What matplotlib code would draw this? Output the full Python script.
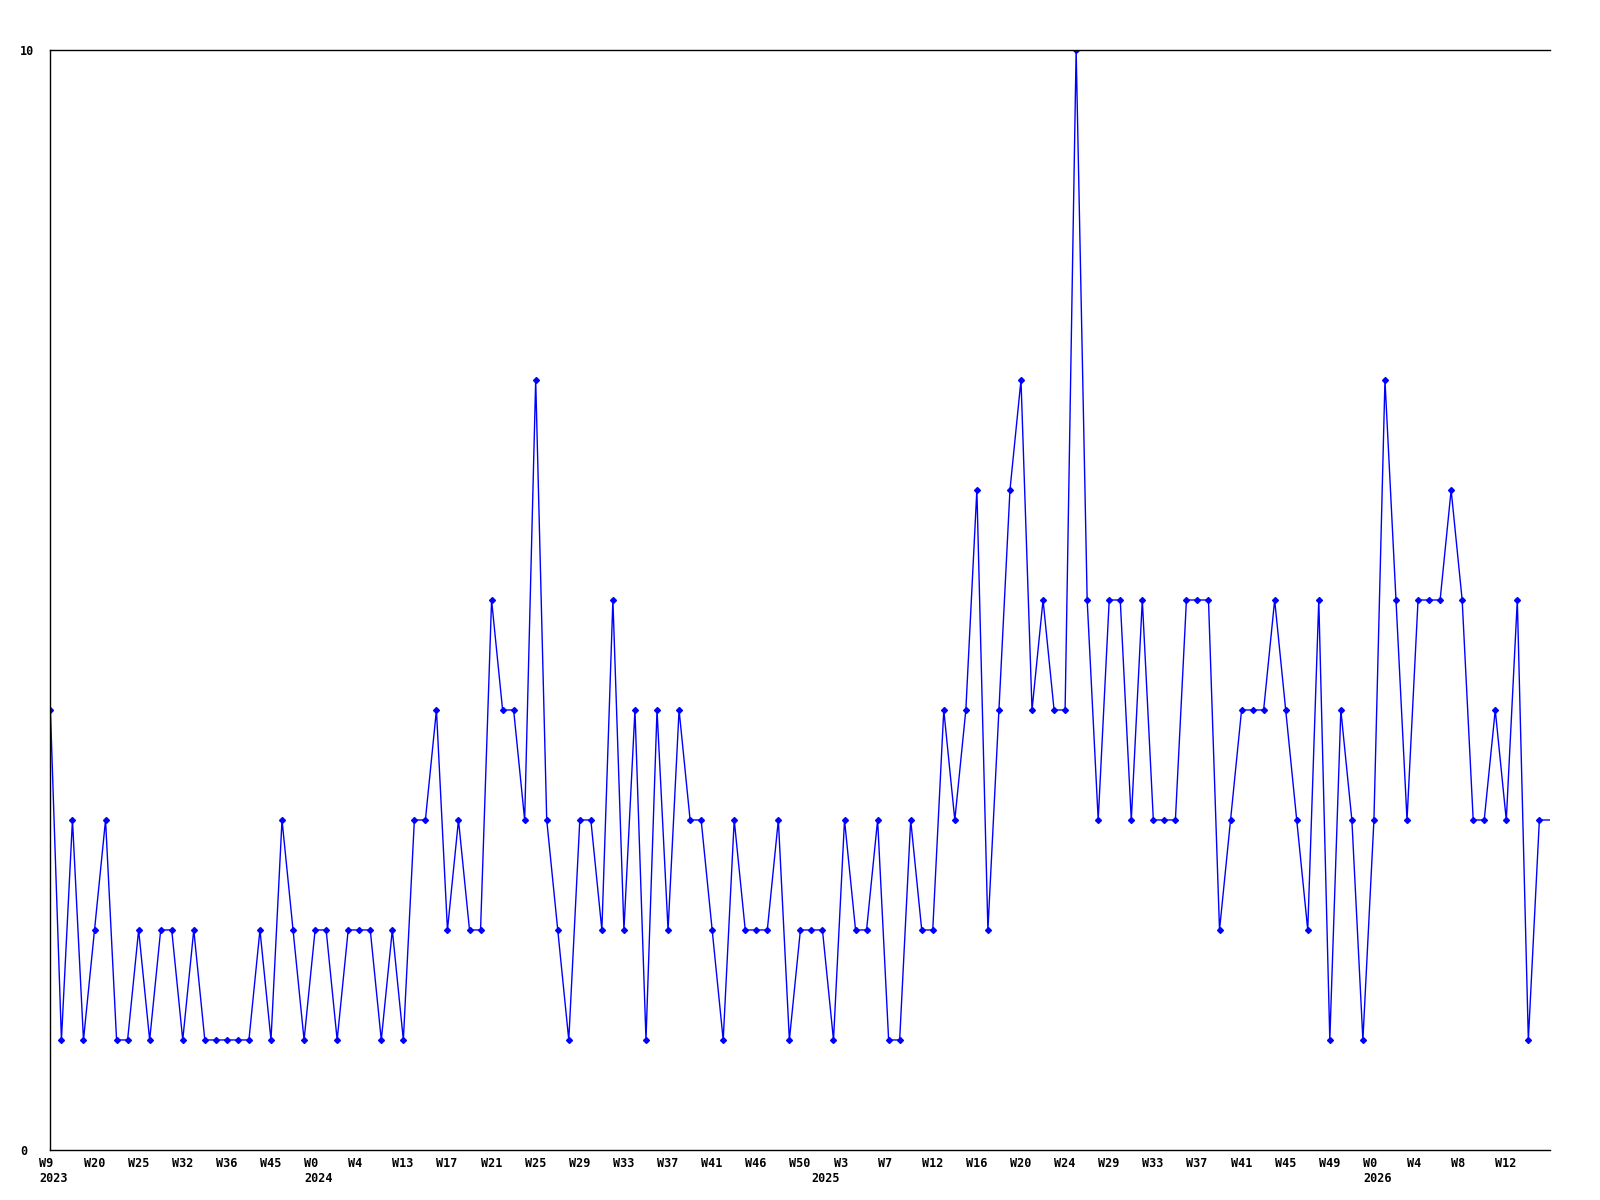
import matplotlib
matplotlib.use("Agg")
import matplotlib.pyplot as plt
import matplotlib.transforms as mtransforms
import numpy as np

# weekly counts, one value per plotted week (weeks without data are skipped)
values = [
    4, 1, 3, 1, 2, 3, 1, 1, 2, 1,
    2, 2, 1, 2, 1, 1, 1, 1, 1, 2,
    1, 3, 2, 1, 2, 2, 1, 2, 2, 2,
    1, 2, 1, 3, 3, 4, 2, 3, 2, 2,
    5, 4, 4, 3, 7, 3, 2, 1, 3, 3,
    2, 5, 2, 4, 1, 4, 2, 4, 3, 3,
    2, 1, 3, 2, 2, 2, 3, 1, 2, 2,
    2, 1, 3, 2, 2, 3, 1, 1, 3, 2,
    2, 4, 3, 4, 6, 2, 4, 6, 7, 4,
    5, 4, 4, 10, 5, 3, 5, 5, 3, 5,
    3, 3, 3, 5, 5, 5, 2, 3, 4, 4,
    4, 5, 4, 3, 2, 5, 1, 4, 3, 1,
    3, 7, 5, 3, 5, 5, 5, 6, 5, 3,
    3, 4, 3, 5, 1, 3, 3,
]

# one label every 4th plotted week
tick_labels = [
    "W9", "W20", "W25", "W32", "W36", "W45",
    "W0", "W4", "W13", "W17", "W21", "W25", "W29", "W33", "W37",
    "W41", "W46", "W50",
    "W3", "W7", "W12", "W16", "W20", "W24", "W29", "W33", "W37",
    "W41", "W45", "W49",
    "W0", "W4", "W8", "W12",
]
label_step = 4

# year labels sit under the first plotted week of each year
year_labels = ["2023", "2024", "2025", "2026"]
year_index = [0, 24, 70, 120]

y_ticks = [0, 10]

x = np.arange(len(values))

fig = plt.figure(figsize=(16, 12), dpi=100)
ax = fig.add_axes([0.0315, 0.0417, 0.9375, 0.9166])

ax.plot(x, values, color="#0000ff", linewidth=1.0,
        marker="D", markersize=3, markevery=list(range(len(values) - 1)))

ax.set_xlim(0, len(values) - 1)
ax.set_ylim(0, 10)

ax.spines["right"].set_visible(False)
for side in ["left", "top", "bottom"]:
    ax.spines[side].set_linewidth(1.0)
    ax.spines[side].set_color("black")

font = dict(family="DejaVu Sans Mono", weight="bold", size=8.5)

ax.set_xticks(x[::label_step][:len(tick_labels)])
ax.set_xticklabels(tick_labels, ha="left", va="top", **font)
ax.tick_params(axis="x", length=0, pad=5)
shift = mtransforms.ScaledTranslation(-11 / 100, 0, fig.dpi_scale_trans)
for lab in ax.get_xticklabels():
    lab.set_transform(lab.get_transform() + shift)

year_tr = ax.get_xaxis_transform() + mtransforms.ScaledTranslation(
    -11 / 100, -22 / 100, fig.dpi_scale_trans)
for idx, yl in zip(year_index, year_labels):
    ax.text(idx, 0, yl, transform=year_tr, ha="left", va="top",
            clip_on=False, **font)

ax.set_yticks(y_ticks)
ax.set_yticklabels([str(v) for v in y_ticks], ha="left", **font)
ax.tick_params(axis="y", length=0, pad=22)

fig.savefig("out.png", dpi=100, facecolor="white")
